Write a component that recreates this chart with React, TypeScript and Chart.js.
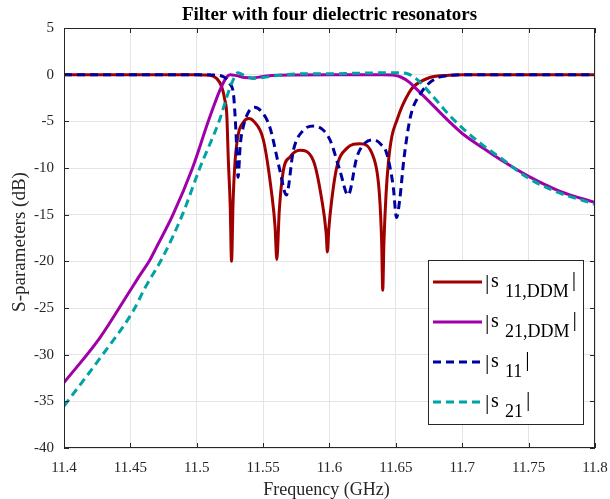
import React, { useEffect, useRef } from "react";
import { Chart, registerables } from "chart.js";

Chart.register(...registerables);

// ---------- data ----------
const xTicks = [11.4, 11.45, 11.5, 11.55, 11.6, 11.65, 11.7, 11.75, 11.8];
const yTicks = [-40, -35, -30, -25, -20, -15, -10, -5, 0, 5];

const freqS11DDM = [
  11.4, 11.45, 11.49, 11.5, 11.505, 11.51, 11.515, 11.5188, 11.5213, 11.5226, 11.5238, 11.5252, 11.5262,
  11.5274, 11.5289, 11.5314, 11.5351, 11.5389, 11.543, 11.5502, 11.5565, 11.559, 11.5603, 11.5622, 11.5652,
  11.5703, 11.5778, 11.5878, 11.5942, 11.5975, 11.5984, 11.5995, 11.6017, 11.6055, 11.613, 11.623, 11.633,
  11.6376, 11.6393, 11.6401, 11.641, 11.6426, 11.6445, 11.647, 11.6507, 11.655, 11.66, 11.6631, 11.6756,
  11.69, 11.7, 11.75, 11.8,
];
const magS11DDM = [
  0, 0, -0.01, -0.02, -0.03, -0.06, -0.4, -1.3, -2.8, -4.2, -9.2, -14, -20,
  -13.5, -9.2, -6.3, -5.1, -4.7, -5.0, -7.0, -12.8, -16.3, -19.8, -14.5, -10.3,
  -8.8, -8.1, -9.2, -13.4, -17, -19, -16.5, -13.4, -9.9, -7.9, -7.4, -8.8,
  -12.8, -18, -23.1, -18, -12.8, -9.2, -6.6, -4.9, -3.3, -1.9, -1.3, -0.3,
  -0.05, 0, 0, 0,
];

const freqS21DDM = [
  11.4, 11.427, 11.4495, 11.4571, 11.4641, 11.4696, 11.4821, 11.4968, 11.5087, 11.5173, 11.5226, 11.5251,
  11.53, 11.536, 11.542, 11.55, 11.56, 11.6, 11.64, 11.648, 11.6537, 11.66, 11.666, 11.6787, 11.69, 11.7,
  11.715, 11.7287, 11.75, 11.7737, 11.8,
];
const magS21DDM = [
  -33.0, -28.2, -23.2, -21.5, -20.0, -18.5, -15.0, -10.0, -5.0, -1.7, -0.25, 0,
  -0.1, -0.3, -0.35, -0.2, -0.05, 0, 0, -0.05, -0.25, -0.8, -1.6, -3.4, -5.0, -6.3,
  -7.8, -9.1, -10.9, -12.5, -13.7,
];

const freqS11 = [
  11.4, 11.5, 11.51, 11.52, 11.525, 11.5276, 11.5295, 11.5311, 11.5328, 11.535, 11.539, 11.5435, 11.549,
  11.555, 11.5627, 11.5675, 11.5728, 11.58, 11.5885, 11.595, 11.6004, 11.6079, 11.614, 11.6207, 11.627,
  11.6335, 11.639, 11.643, 11.648, 11.6505, 11.6529, 11.656, 11.661, 11.6687, 11.679, 11.69, 11.7, 11.8,
];
const magS11 = [
  0, 0, -0.02, -0.2, -1.0, -2.0, -6.0, -11.0, -7.5, -5.6, -4.0, -3.5, -4.0,
  -5.6, -10.3, -12.9, -8.1, -6.0, -5.5, -5.9, -7.0, -10.3, -12.9, -8.8, -7.3,
  -7.0, -7.5, -8.4, -12.0, -15.3, -13.4, -9.1, -4.5, -2.0, -0.5, -0.1, 0, 0,
];

const freqS21 = [
  11.4, 11.427, 11.4522, 11.4608, 11.4746, 11.4892, 11.5023, 11.5168, 11.5243, 11.528, 11.531, 11.536,
  11.5425, 11.55, 11.56, 11.58, 11.6, 11.62, 11.64, 11.6537, 11.6587, 11.665, 11.679, 11.69, 11.7,
  11.715, 11.7287, 11.75, 11.7737, 11.7937, 11.8,
];
const magS21 = [
  -35.5, -30.4, -25.3, -22.9, -19.5, -15.0, -10.0, -5.0, -1.7, -0.4, 0.2, -0.1,
  -0.4, -0.3, -0.1, 0.1, 0.1, 0.15, 0.2, 0.2, 0.1, -0.4, -2.5, -4.3, -5.7,
  -7.5, -8.9, -11.1, -12.7, -13.6, -13.9,
];

const seriesSubscripts = ["11,DDM", "21,DDM", "11", "21"];
const seriesColors = ["#a00000", "#a000a8", "#0000a0", "#00a3a3"];
const seriesDashes: number[][] = [[], [], [8, 5], [8, 5]];

const titleText = "Filter with four dielectric resonators";
const xLabelText = "Frequency (GHz)";
const yLabelText = "S-parameters (dB)";

const FONT = "'Liberation Serif', 'DejaVu Serif', serif";
const AXIS = "#262626";

function pts(f: number[], v: number[]) {
  return f.map((x, i) => ({ x, y: v[i] }));
}

const decor = {
  id: "decor",
  beforeDraw(chart: any) {
    const c = chart.ctx;
    c.save();
    c.fillStyle = "#ffffff";
    c.fillRect(0, 0, chart.width, chart.height);
    c.restore();
  },
  afterDraw(chart: any) {
    const { ctx, chartArea: a, scales } = chart;
    const xs = scales.x;
    const ys = scales.y;
    ctx.save();
    // box
    ctx.strokeStyle = AXIS;
    ctx.lineWidth = 1;
    ctx.strokeRect(Math.round(a.left) + 0.5, Math.round(a.top) + 0.5, Math.round(a.right - a.left) - 1, Math.round(a.bottom - a.top) - 1);
    // inward ticks
    const tl = 5;
    ctx.beginPath();
    xTicks.forEach((v) => {
      const px = Math.round(xs.getPixelForValue(v)) + 0.5;
      ctx.moveTo(px, a.bottom);
      ctx.lineTo(px, a.bottom - tl);
      ctx.moveTo(px, a.top);
      ctx.lineTo(px, a.top + tl);
    });
    yTicks.forEach((v) => {
      const py = Math.round(ys.getPixelForValue(v)) + 0.5;
      ctx.moveTo(a.left, py);
      ctx.lineTo(a.left + tl, py);
      ctx.moveTo(a.right, py);
      ctx.lineTo(a.right - tl, py);
    });
    ctx.stroke();

    // title
    ctx.fillStyle = "#000";
    ctx.textAlign = "center";
    ctx.textBaseline = "alphabetic";
    ctx.font = `bold 19px ${FONT}`;
    ctx.fillText(titleText, (a.left + a.right) / 2, 20);
    // x label
    ctx.fillStyle = AXIS;
    ctx.font = `18px ${FONT}`;
    ctx.fillText(xLabelText, (a.left + a.right) / 2 - 3, 495);
    // y label
    ctx.save();
    ctx.translate(20, (a.top + a.bottom) / 2 + 4);
    ctx.rotate(-Math.PI / 2);
    ctx.textBaseline = "middle";
    ctx.font = `19px ${FONT}`;
    ctx.fillText(yLabelText, 0, 0);
    ctx.restore();

    // legend
    const bx = 428.5, by = 260.5, bw = 155, bh = 164;
    ctx.fillStyle = "#ffffff";
    ctx.fillRect(bx, by, bw, bh);
    ctx.strokeStyle = AXIS;
    ctx.lineWidth = 1;
    ctx.strokeRect(bx, by, bw, bh);
    const rows = [282, 322, 362, 402];
    rows.forEach((ry, i) => {
      ctx.save();
      ctx.strokeStyle = seriesColors[i];
      ctx.lineWidth = 3;
      ctx.setLineDash(seriesDashes[i]);
      ctx.beginPath();
      ctx.moveTo(433, ry);
      ctx.lineTo(482, ry);
      ctx.stroke();
      ctx.restore();
      ctx.fillStyle = "#000";
      ctx.textAlign = "left";
      ctx.textBaseline = "alphabetic";
      ctx.font = `22px ${FONT}`;
      ctx.fillText("|", 485, ry + 7);
      ctx.font = `20px ${FONT}`;
      ctx.fillText("s", 491, ry + 5);
      ctx.font = `18px ${FONT}`;
      const sx = 505;
      ctx.fillText(seriesSubscripts[i], sx, ry + 15);
      const w = ctx.measureText(seriesSubscripts[i]).width;
      ctx.font = `22px ${FONT}`;
      ctx.fillText("|", sx + w + 3, ry + 4);
    });
    ctx.restore();
  },
};

export default function App() {
  const ref = useRef<HTMLCanvasElement | null>(null);
  useEffect(() => {
    document.body.style.margin = "0";
    const canvas = ref.current!;
    const series = [
      pts(freqS11DDM, magS11DDM),
      pts(freqS21DDM, magS21DDM),
      pts(freqS11, magS11),
      pts(freqS21, magS21),
    ];
    const chart = new Chart(canvas, {
      type: "line",
      data: {
        datasets: series.map((d, i) => ({
          label: seriesSubscripts[i],
          data: d,
          borderColor: seriesColors[i],
          borderWidth: 3,
          borderDash: seriesDashes[i],
          borderCapStyle: "butt",
          pointRadius: 0,
          fill: false,
          cubicInterpolationMode: "monotone",
          order: 4 - i,
        })),
      },
      options: {
        animation: false,
        responsive: false,
        layout: { padding: { top: 28, right: 15, left: 0, bottom: 0 } },
        plugins: {
          legend: { display: false },
          title: { display: false },
          tooltip: { enabled: false },
        },
        scales: {
          x: {
            type: "linear",
            min: 11.4,
            max: 11.8,
            afterBuildTicks: (s: any) => {
              s.ticks = xTicks.map((value) => ({ value }));
            },
            ticks: {
              callback: (v: any) => String(Number(Number(v).toFixed(2))),
              font: { family: FONT, size: 15 },
              color: AXIS,
              padding: 11,
              maxRotation: 0,
              autoSkip: false,
            },
            grid: { color: "#e4e4e4", drawTicks: false },
            border: { display: false },
            afterFit: (s: any) => {
              s.height = 51;
              s.paddingLeft = 0;
              s.paddingRight = 0;
            },
          },
          y: {
            type: "linear",
            min: -40,
            max: 5,
            afterBuildTicks: (s: any) => {
              s.ticks = yTicks.map((value) => ({ value }));
            },
            ticks: {
              font: { family: FONT, size: 15 },
              color: AXIS,
              padding: 10,
              autoSkip: false,
            },
            grid: { color: "#e4e4e4", drawTicks: false },
            border: { display: false },
            afterFit: (s: any) => {
              s.width = 64;
              s.paddingTop = 0;
              s.paddingBottom = 0;
            },
          },
        },
      },
      plugins: [decor],
    } as any);
    return () => chart.destroy();
  }, []);
  return (
    <div style={{ position: "fixed", left: 0, top: 0, width: 610, height: 499, background: "#fff" }}>
      <canvas ref={ref} width={610} height={499} />
    </div>
  );
}
